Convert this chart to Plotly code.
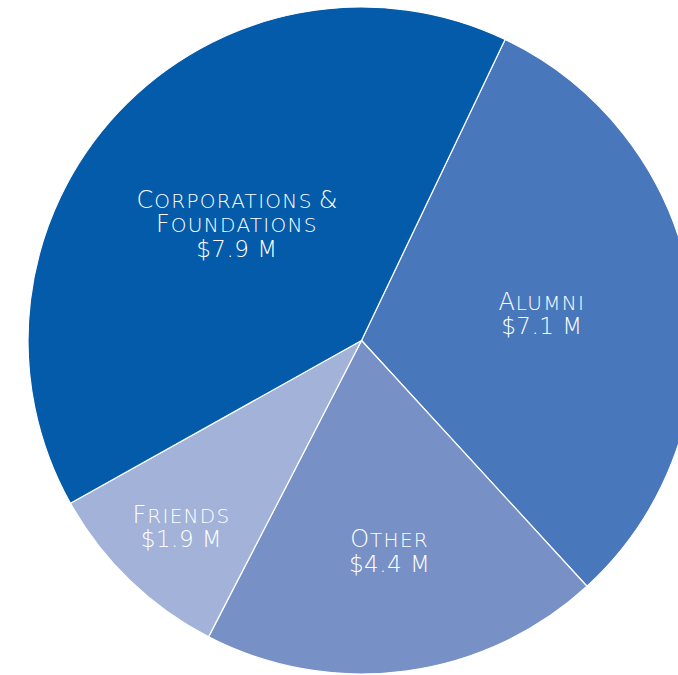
import plotly.graph_objects as go

# Data
categories = ["Alumni", "Other", "Friends", "Corporations & Foundations"]
line_breaks = [None, None, None, "Corporations &|Foundations"]
amounts = [7.1, 4.4, 1.9, 7.9]          # $ millions (labels)
shares = [31.1, 19.4, 9.3, 40.2]         # slice shares (%)
colors = ["#4977BC", "#7790C6", "#A2B2D9", "#035BAA"]

BIG = 24
SMALL = 20


def small_caps(word):
    if not word[0].isalpha():
        return f"<span style='font-size:{BIG}px'>{word}</span>"
    return (f"<span style='font-size:{BIG}px;letter-spacing:1px'>{word[0].upper()}</span>"
            f"<span style='font-size:{SMALL}px;letter-spacing:1.3px'>{word[1:].upper()}</span>")


def label(cat, brk, amt):
    lines = (brk or cat).split("|")
    out = ["<span> </span>".join(small_caps(w) for w in ln.split(" ")) for ln in lines]
    out.append(f"<span style='font-size:{BIG - 1}px;letter-spacing:0.5px'>${amt} M</span>")
    return "<br>".join(out)


texts = [label(c, b, a) for c, b, a in zip(categories, line_breaks, amounts)]

fig = go.Figure(
    go.Pie(
        labels=categories,
        values=shares,
        text=texts,
        textinfo="text",
        hoverinfo="label",
        sort=False,
        direction="clockwise",
        rotation=25.5,
        marker=dict(colors=colors, line=dict(color="white", width=1.2)),
        textposition="inside",
        insidetextorientation="horizontal",
        textfont=dict(family="DejaVu Sans", size=19, color="white", weight=300),
        showlegend=False,
    )
)

fig.update_layout(
    width=700,
    height=675,
    margin=dict(l=28, r=5, t=7, b=1),
    paper_bgcolor="white",
    plot_bgcolor="white",
)

fig.write_html(
    "out.html",
    config={"displayModeBar": False},
    post_script="document.body.style.margin='0';document.body.style.overflow='hidden';document.documentElement.style.overflow='hidden';",
)
